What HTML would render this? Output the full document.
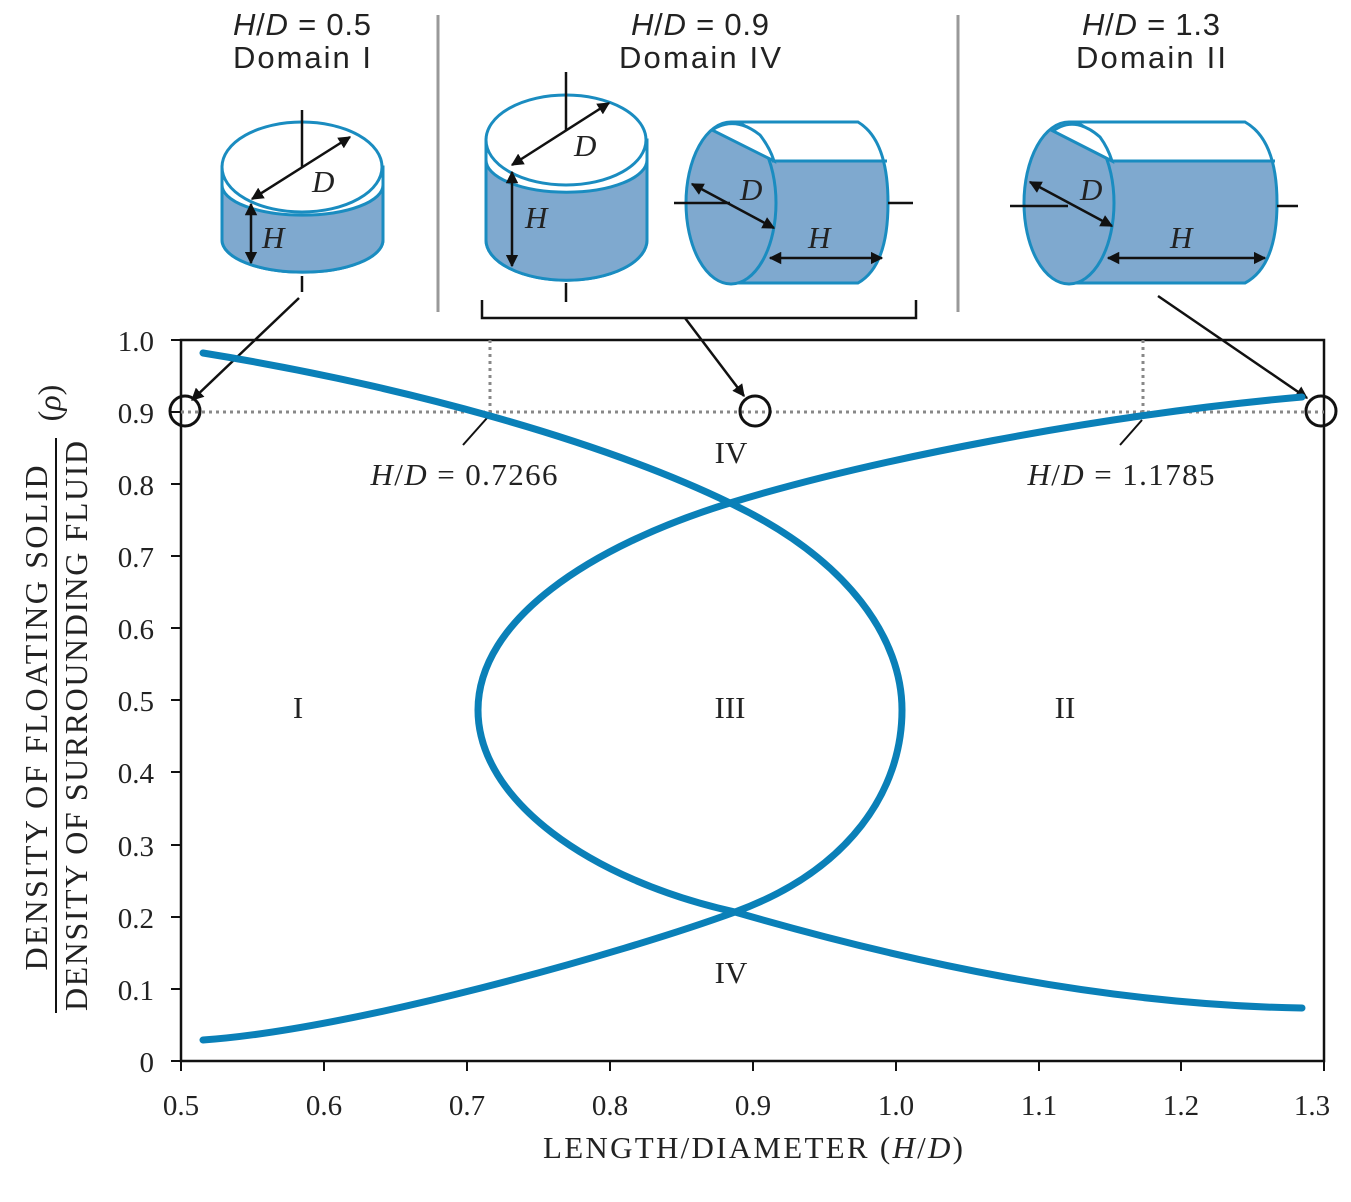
<!DOCTYPE html>
<html><head><meta charset="utf-8"><style>
body{margin:0;background:#fff}
svg{display:block}
text{font-family:"Liberation Serif",serif;fill:#222}
</style></head><body>
<svg width="1351" height="1202" viewBox="0 0 1351 1202" xmlns="http://www.w3.org/2000/svg">
<defs>
<marker id="a" viewBox="0 0 10 10" refX="9" refY="5" markerWidth="5" markerHeight="5" orient="auto-start-reverse"><path d="M0,0 L10,5 L0,10 Z" fill="#111"/></marker>
<clipPath id="b3"><path d="M731,122 L858,122 Q888,140 888,203 Q888,266 858,283 L731,283 Z"/></clipPath>
<clipPath id="b4"><path d="M1069,122 L1245,122 Q1277,140 1277,203 Q1277,266 1245,283 L1069,283 Z"/></clipPath>
</defs>
<g font-size="31" text-anchor="middle" style="font-family:'Liberation Sans',sans-serif">
<text x="302" y="35" textLength="138" style="font-family:'Liberation Sans',sans-serif"><tspan font-style="italic">H</tspan>/<tspan font-style="italic">D</tspan> = 0.5</text>
<text x="302" y="68" textLength="138" style="font-family:'Liberation Sans',sans-serif">Domain I</text>
<text x="700" y="35" textLength="138" style="font-family:'Liberation Sans',sans-serif"><tspan font-style="italic">H</tspan>/<tspan font-style="italic">D</tspan> = 0.9</text>
<text x="700" y="68" textLength="162" style="font-family:'Liberation Sans',sans-serif">Domain IV</text>
<text x="1151" y="35" textLength="138" style="font-family:'Liberation Sans',sans-serif"><tspan font-style="italic">H</tspan>/<tspan font-style="italic">D</tspan> = 1.3</text>
<text x="1151" y="68" textLength="150" style="font-family:'Liberation Sans',sans-serif">Domain II</text>
</g>
<line x1="438" y1="15" x2="438" y2="312" stroke="#999" stroke-width="3"/>
<line x1="958" y1="15" x2="958" y2="312" stroke="#999" stroke-width="3"/>

<g stroke="#1a8cc0" stroke-width="3">
<path d="M222,167 L222,240 A80,32 0 0 0 383,240 L383,167 Z" fill="#fff"/>
<path d="M222,185 L222,240 A80,32 0 0 0 383,240 L383,185 A80,30 0 0 1 222,185 Z" fill="#7fa9cf"/>
<ellipse cx="302" cy="167" rx="80" ry="45" fill="#fff"/>
<path d="M486,140 L486,240 A80,40 0 0 0 647,240 L647,140 Z" fill="#fff"/>
<path d="M486,160 L486,240 A80,40 0 0 0 647,240 L647,160 A80,32 0 0 1 486,160 Z" fill="#7fa9cf"/>
<ellipse cx="566" cy="140" rx="80" ry="45" fill="#fff"/>
<!-- cyl 3 -->
<path d="M731,122 L858,122 Q888,140 888,203 Q888,266 858,283 L731,283 Z" fill="#fff" stroke="none"/>
<rect x="700" y="161" width="200" height="130" fill="#7fa9cf" stroke="none" clip-path="url(#b3)"/>
<path d="M731,122 L858,122 Q888,140 888,203 Q888,266 858,283 L731,283" fill="none"/>
<line x1="772" y1="161" x2="887" y2="161"/>
<ellipse cx="731" cy="203" rx="45" ry="81" fill="#7fa9cf"/>
<path d="M712,130 Q735,115 760,135 Q770,148 774,161 Z" fill="#fff"/>
<!-- cyl 4 -->
<path d="M1069,122 L1245,122 Q1277,140 1277,203 Q1277,266 1245,283 L1069,283 Z" fill="#fff" stroke="none"/>
<rect x="1040" y="161" width="250" height="130" fill="#7fa9cf" stroke="none" clip-path="url(#b4)"/>
<path d="M1069,122 L1245,122 Q1277,140 1277,203 Q1277,266 1245,283 L1069,283" fill="none"/>
<line x1="1112" y1="161" x2="1275" y2="161"/>
<ellipse cx="1069" cy="203" rx="45" ry="81" fill="#7fa9cf"/>
<path d="M1053,131 Q1075,115 1100,137 Q1108,148 1112,161 Z" fill="#fff"/>
</g>
<g stroke="#111" stroke-width="2.5" fill="none">
<line x1="302" y1="110" x2="302" y2="167"/>
<line x1="302" y1="276" x2="302" y2="292"/>
<line x1="566" y1="72" x2="566" y2="130"/>
<line x1="566" y1="283" x2="566" y2="302"/>
<line x1="674" y1="203" x2="730" y2="203"/>
<line x1="888" y1="203" x2="913" y2="203"/>
<line x1="1010" y1="206" x2="1068" y2="206"/>
<line x1="1277" y1="206" x2="1298" y2="206"/>
<line x1="252" y1="199" x2="350" y2="137" marker-start="url(#a)" marker-end="url(#a)"/>
<line x1="251" y1="204" x2="251" y2="263" marker-start="url(#a)" marker-end="url(#a)"/>
<line x1="512" y1="165" x2="609" y2="103" marker-start="url(#a)" marker-end="url(#a)"/>
<line x1="512" y1="172" x2="512" y2="266" marker-start="url(#a)" marker-end="url(#a)"/>
<line x1="692" y1="184" x2="774" y2="228" marker-start="url(#a)" marker-end="url(#a)"/>
<line x1="770" y1="258" x2="882" y2="258" marker-start="url(#a)" marker-end="url(#a)"/>
<line x1="1030" y1="182" x2="1112" y2="226" marker-start="url(#a)" marker-end="url(#a)"/>
<line x1="1108" y1="258" x2="1265" y2="258" marker-start="url(#a)" marker-end="url(#a)"/>
<path d="M482,300 L482,318 L916,318 L916,300"/>
<line x1="299" y1="298" x2="192" y2="400" marker-end="url(#a)"/>
<line x1="685" y1="318" x2="744" y2="396" marker-end="url(#a)"/>
<line x1="1158" y1="296" x2="1307" y2="398" marker-end="url(#a)"/>
</g>
<g font-size="31" font-style="italic" fill="#222">
<text x="312" y="192">D</text><text x="262" y="248">H</text>
<text x="574" y="156">D</text><text x="525" y="228">H</text>
<text x="740" y="200">D</text><text x="808" y="248">H</text>
<text x="1080" y="200">D</text><text x="1170" y="248">H</text>
</g>

<rect x="181" y="340" width="1143" height="721" fill="none" stroke="#111" stroke-width="2.5"/>
<g stroke="#888" stroke-width="3" stroke-dasharray="3,4">
<line x1="181" y1="412" x2="1324" y2="412"/>
<line x1="490" y1="340" x2="490" y2="412"/>
<line x1="1143" y1="340" x2="1143" y2="412"/>
</g>
<g stroke="#111" stroke-width="2">
<line x1="181" y1="340" x2="171" y2="340"/><line x1="181" y1="412" x2="171" y2="412"/>
<line x1="181" y1="484" x2="171" y2="484"/><line x1="181" y1="556" x2="171" y2="556"/>
<line x1="181" y1="628" x2="171" y2="628"/><line x1="181" y1="700" x2="171" y2="700"/>
<line x1="181" y1="772" x2="171" y2="772"/><line x1="181" y1="845" x2="171" y2="845"/>
<line x1="181" y1="917" x2="171" y2="917"/><line x1="181" y1="989" x2="171" y2="989"/>
<line x1="181" y1="1061" x2="171" y2="1061"/>
<line x1="181" y1="1061" x2="181" y2="1071"/><line x1="324" y1="1061" x2="324" y2="1071"/>
<line x1="467" y1="1061" x2="467" y2="1071"/><line x1="610" y1="1061" x2="610" y2="1071"/>
<line x1="753" y1="1061" x2="753" y2="1071"/><line x1="896" y1="1061" x2="896" y2="1071"/>
<line x1="1039" y1="1061" x2="1039" y2="1071"/><line x1="1181" y1="1061" x2="1181" y2="1071"/>
<line x1="1324" y1="1061" x2="1324" y2="1071"/>
<line x1="463" y1="445" x2="487" y2="418"/>
<line x1="1120" y1="445" x2="1142" y2="420"/>
</g>
<g font-size="29" text-anchor="end">
<text x="154" y="351">1.0</text><text x="154" y="423">0.9</text><text x="154" y="495">0.8</text>
<text x="154" y="567">0.7</text><text x="154" y="639">0.6</text><text x="154" y="711">0.5</text>
<text x="154" y="783">0.4</text><text x="154" y="856">0.3</text><text x="154" y="928">0.2</text>
<text x="154" y="1000">0.1</text><text x="154" y="1072">0</text>
</g>
<g font-size="29" text-anchor="middle">
<text x="181" y="1115">0.5</text><text x="324" y="1115">0.6</text><text x="467" y="1115">0.7</text>
<text x="610" y="1115">0.8</text><text x="753" y="1115">0.9</text><text x="896" y="1115">1.0</text>
<text x="1039" y="1115">1.1</text><text x="1181" y="1115">1.2</text><text x="1312" y="1115">1.3</text>
<text x="753" y="1158" font-size="31" textLength="420">LENGTH/DIAMETER (<tspan font-style="italic">H</tspan>/<tspan font-style="italic">D</tspan>)</text>
<text x="298" y="718" font-size="31">I</text>
<text x="730" y="718" font-size="31">III</text>
<text x="1065" y="718" font-size="31">II</text>
<text x="731" y="463" font-size="31">IV</text>
<text x="731" y="983" font-size="31">IV</text>
<text x="464" y="485" font-size="31" textLength="187"><tspan font-style="italic">H</tspan>/<tspan font-style="italic">D</tspan> = 0.7266</text>
<text x="1121" y="485" font-size="31" textLength="187"><tspan font-style="italic">H</tspan>/<tspan font-style="italic">D</tspan> = 1.1785</text>
</g>
<g font-size="32" text-anchor="middle">
<text transform="translate(47,718) rotate(-90)" textLength="505">DENSITY OF FLOATING SOLID</text>
<line x1="56" y1="438" x2="56" y2="1013" stroke="#111" stroke-width="2"/>
<text transform="translate(87,726) rotate(-90)" textLength="570">DENSITY OF SURROUNDING FLUID</text>
<text transform="translate(60,403) rotate(-90)">(<tspan font-style="italic">ρ</tspan>)</text>
</g>

<g fill="none" stroke="#0a80b8" stroke-width="7" stroke-linecap="round">
<path d="M203,353 C400,385 600,440 730,503 C850,560 902,640 902,710 C902,790 850,870 735,912 C620,954 350,1030 203,1040"/>
<path d="M1302,397 C1100,415 870,460 730,503 C590,546 478,620 478,710 C478,800 590,880 735,912 C900,960 1100,1005 1302,1008"/>
</g>
<g fill="none" stroke="#111" stroke-width="3">
<circle cx="185" cy="411" r="15"/><circle cx="755" cy="411" r="15"/><circle cx="1321" cy="411" r="15"/>
</g>
</svg>
</body></html>
